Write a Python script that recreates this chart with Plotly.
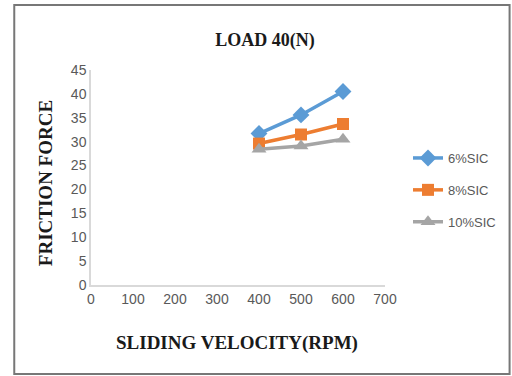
import plotly.graph_objects as go

rpm = [400, 500, 600]
sic6 = [31.7, 35.6, 40.5]
sic8 = [29.6, 31.5, 33.7]
sic10 = [28.4, 29.1, 30.5]
names = ["6%SIC", "8%SIC", "10%SIC"]
colors = ["#5B9BD5", "#ED7D31", "#A5A5A5"]
symbols = ["diamond", "square", "triangle-up"]
sizes = [13, 12, 13]

fig = go.Figure()
for i, (ys, n, c, s, sz) in enumerate(zip([sic6, sic8, sic10], names, colors, symbols, sizes)):
    fig.add_trace(go.Scatter(x=rpm, y=ys, name=n, mode="lines+markers", legendgroup=f"g{i}",
                             line=dict(color=c, width=3.5),
                             marker=dict(symbol=s, size=sz, color=c)))

L, R, T, B = 91, 386, 70, 285
W, H = 512, 376
pw, ph = R - L, B - T
def px(x): return (x - L) / pw
def py(y): return (B - y) / ph

sans = "Liberation Sans, Arial"
serif = "Liberation Serif, Times New Roman, serif"

fig.update_layout(
    width=W, height=H,
    margin=dict(l=L, r=W - R, t=T, b=H - B),
    paper_bgcolor="white", plot_bgcolor="white",
    showlegend=True,
    legend=dict(x=px(408), y=py(143), xanchor="left", yanchor="top",
                font=dict(family=sans, size=13, color="#595959"),
                tracegroupgap=12, itemwidth=30, bgcolor="rgba(0,0,0,0)"),
    title=dict(text="<b>LOAD 40(N)</b>", xref="container", x=265 / W, xanchor="center",
               y=1 - 40 / H, yanchor="middle",
               font=dict(family=serif, size=18, color="#1a1a1a")),
    xaxis=dict(range=[0, 700], dtick=100, showgrid=False, zeroline=False,
               showline=True, linecolor="#D9D9D9", linewidth=1.5, ticks="",
               tickfont=dict(family=sans, size=14, color="#595959")),
    yaxis=dict(range=[0, 45], dtick=5, showgrid=False, zeroline=False,
               showline=True, linecolor="#D9D9D9", linewidth=1.5, ticks="",
               tickfont=dict(family=sans, size=14, color="#595959")),
    annotations=[
        dict(text="<b>SLIDING VELOCITY(RPM)</b>", xref="paper", yref="paper",
             x=px(237), y=py(343), xanchor="center", yanchor="middle", showarrow=False,
             font=dict(family=serif, size=19, color="#1a1a1a")),
        dict(text="<b>FRICTION FORCE</b>", xref="paper", yref="paper", textangle=-90,
             x=px(45), y=py(183), xanchor="center", yanchor="middle", showarrow=False,
             font=dict(family=serif, size=19, color="#1a1a1a")),
    ],
    shapes=[dict(type="rect", xref="paper", yref="paper",
                 x0=px(14), x1=px(511), y0=py(374), y1=py(5),
                 line=dict(color="#777", width=2), layer="below")],
)
fig.write_html("out.html")
